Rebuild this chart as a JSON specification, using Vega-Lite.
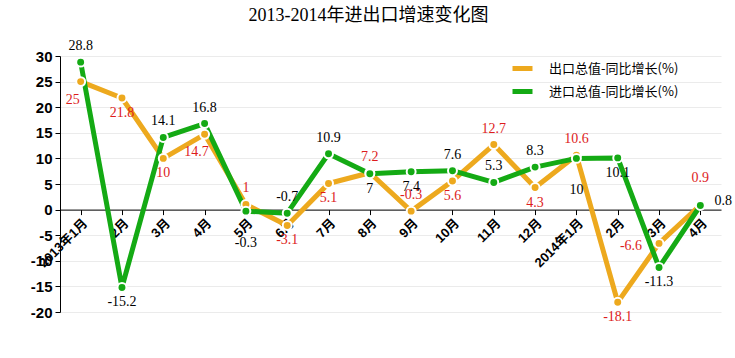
{
  "$schema": "https://vega.github.io/schema/vega-lite/v6.json",
  "autosize": "none",
  "width": 661,
  "height": 256,
  "padding": {"left": 60, "top": 56, "right": 14, "bottom": 46},
  "background": "white",
  "title": {
    "text": "2013-2014年进出口增速变化图",
    "font": "Liberation Serif, Noto Sans CJK SC",
    "fontSize": 18,
    "fontWeight": "normal",
    "color": "#000",
    "anchor": "middle",
    "dx": -22,
    "offset": 14
  },
  "config": {"view": {"stroke": null}},
  "data": {
    "values": [
      {"m": "2013-01", "s": "出口总值-同比增长(%)", "v": 25},
      {"m": "2013-02", "s": "出口总值-同比增长(%)", "v": 21.8},
      {"m": "2013-03", "s": "出口总值-同比增长(%)", "v": 10},
      {"m": "2013-04", "s": "出口总值-同比增长(%)", "v": 14.7},
      {"m": "2013-05", "s": "出口总值-同比增长(%)", "v": 1},
      {"m": "2013-06", "s": "出口总值-同比增长(%)", "v": -3.1},
      {"m": "2013-07", "s": "出口总值-同比增长(%)", "v": 5.1},
      {"m": "2013-08", "s": "出口总值-同比增长(%)", "v": 7.2},
      {"m": "2013-09", "s": "出口总值-同比增长(%)", "v": -0.3},
      {"m": "2013-10", "s": "出口总值-同比增长(%)", "v": 5.6},
      {"m": "2013-11", "s": "出口总值-同比增长(%)", "v": 12.7},
      {"m": "2013-12", "s": "出口总值-同比增长(%)", "v": 4.3},
      {"m": "2014-01", "s": "出口总值-同比增长(%)", "v": 10.6},
      {"m": "2014-02", "s": "出口总值-同比增长(%)", "v": -18.1},
      {"m": "2014-03", "s": "出口总值-同比增长(%)", "v": -6.6},
      {"m": "2014-04", "s": "出口总值-同比增长(%)", "v": 0.9},
      {"m": "2013-01", "s": "进口总值-同比增长(%)", "v": 28.8},
      {"m": "2013-02", "s": "进口总值-同比增长(%)", "v": -15.2},
      {"m": "2013-03", "s": "进口总值-同比增长(%)", "v": 14.1},
      {"m": "2013-04", "s": "进口总值-同比增长(%)", "v": 16.8},
      {"m": "2013-05", "s": "进口总值-同比增长(%)", "v": -0.3},
      {"m": "2013-06", "s": "进口总值-同比增长(%)", "v": -0.7},
      {"m": "2013-07", "s": "进口总值-同比增长(%)", "v": 10.9},
      {"m": "2013-08", "s": "进口总值-同比增长(%)", "v": 7},
      {"m": "2013-09", "s": "进口总值-同比增长(%)", "v": 7.4},
      {"m": "2013-10", "s": "进口总值-同比增长(%)", "v": 7.6},
      {"m": "2013-11", "s": "进口总值-同比增长(%)", "v": 5.3},
      {"m": "2013-12", "s": "进口总值-同比增长(%)", "v": 8.3},
      {"m": "2014-01", "s": "进口总值-同比增长(%)", "v": 10},
      {"m": "2014-02", "s": "进口总值-同比增长(%)", "v": 10.1},
      {"m": "2014-03", "s": "进口总值-同比增长(%)", "v": -11.3},
      {"m": "2014-04", "s": "进口总值-同比增长(%)", "v": 0.8}
    ]
  },
  "encoding": {
    "x": {
      "field": "m",
      "type": "ordinal",
      "sort": null,
      "scale": {"paddingInner": 0, "paddingOuter": 0},
      "axis": {
        "title": null,
        "offset": -102.4,
        "bandPosition": 0,
        "labelDx": 20.6,
        "domainColor": "#000",
        "domainWidth": 1,
        "tickColor": "#000",
        "tickSize": 5,
        "labelAngle": -45,
        "labelFont": "Liberation Sans, Noto Sans CJK SC",
        "labelFontSize": 13,
        "labelFontWeight": "bold",
        "labelColor": "#000",
        "labelExpr": "slice(datum.value,5)=='01' ? slice(datum.value,0,4)+'年1月' : toNumber(slice(datum.value,5))+'月'"
      }
    },
    "y": {
      "field": "v",
      "type": "quantitative",
      "scale": {"domain": [-20, 30], "nice": false, "zero": false},
      "axis": {
        "title": null,
        "values": [-20, -15, -10, -5, 0, 5, 10, 15, 20, 25, 30],
        "labelExpr": "'' + datum.value",
        "domainColor": "#000",
        "tickColor": "#000",
        "tickSize": 5,
        "gridColor": "#ebebeb",
        "labelFont": "Liberation Sans",
        "labelFontSize": 15,
        "labelFontWeight": "bold",
        "labelColor": "#000",
        "labelPadding": 3
      }
    }
  },
  "layer": [
    {
      "mark": {"type": "line", "strokeWidth": 5, "strokeJoin": "round"},
      "encoding": {
        "color": {
          "field": "s",
          "type": "nominal",
          "scale": {"domain": ["出口总值-同比增长(%)", "进口总值-同比增长(%)"], "range": ["#EDA91E", "#14AA14"]},
          "legend": {
            "title": null,
            "orient": "none",
            "legendX": 450,
            "legendY": 0,
            "symbolType": "stroke",
            "symbolSize": 400,
            "symbolStrokeWidth": 5,
            "labelOffset": 14,
            "labelFont": "Noto Sans CJK SC",
            "labelFontSize": 13,
            "labelColor": "#000",
            "rowPadding": 0
          }
        }
      }
    },
    {
      "mark": {"type": "point", "filled": true, "size": 80, "stroke": "white", "strokeWidth": 2, "opacity": 1},
      "encoding": {
        "fill": {
          "field": "s",
          "type": "nominal",
          "scale": {"domain": ["出口总值-同比增长(%)", "进口总值-同比增长(%)"], "range": ["#EDA91E", "#14AA14"]},
          "legend": null
        }
      }
    },
    {
      "transform": [{"filter": {"and": [{"field": "s", "equal": "出口总值-同比增长(%)"}, {"field": "m", "oneOf": ["2013-02", "2013-03", "2013-06", "2013-07", "2013-10", "2013-12", "2014-02"]}]}}],
      "mark": {"type": "text", "dy": 15, "font": "Liberation Serif", "fontSize": 14, "color": "#DD1C1C"},
      "encoding": {"text": {"field": "v", "type": "nominal"}}
    },
    {
      "transform": [{"filter": {"and": [{"field": "s", "equal": "出口总值-同比增长(%)"}, {"field": "m", "oneOf": ["2013-01", "2013-04"]}]}}],
      "mark": {"type": "text", "dx": -8, "dy": 18, "font": "Liberation Serif", "fontSize": 14, "color": "#DD1C1C"},
      "encoding": {"text": {"field": "v", "type": "nominal"}}
    },
    {
      "transform": [{"filter": {"and": [{"field": "s", "equal": "出口总值-同比增长(%)"}, {"field": "m", "oneOf": ["2013-05", "2013-08", "2013-09", "2013-11", "2014-01"]}]}}],
      "mark": {"type": "text", "dy": -16, "font": "Liberation Serif", "fontSize": 14, "color": "#DD1C1C"},
      "encoding": {"text": {"field": "v", "type": "nominal"}}
    },
    {
      "transform": [{"filter": {"and": [{"field": "s", "equal": "出口总值-同比增长(%)"}, {"field": "m", "oneOf": ["2014-04"]}]}}],
      "mark": {"type": "text", "dy": -27, "font": "Liberation Serif", "fontSize": 14, "color": "#DD1C1C"},
      "encoding": {"text": {"field": "v", "type": "nominal"}}
    },
    {
      "transform": [{"filter": {"and": [{"field": "s", "equal": "出口总值-同比增长(%)"}, {"field": "m", "oneOf": ["2014-03"]}]}}],
      "mark": {"type": "text", "dx": -28, "dy": 3, "font": "Liberation Serif", "fontSize": 14, "color": "#DD1C1C"},
      "encoding": {"text": {"field": "v", "type": "nominal"}}
    },
    {
      "transform": [{"filter": {"and": [{"field": "s", "equal": "进口总值-同比增长(%)"}, {"field": "m", "oneOf": ["2013-01", "2013-03", "2013-04", "2013-06", "2013-07", "2013-10", "2013-11", "2013-12"]}]}}],
      "mark": {"type": "text", "dy": -16, "font": "Liberation Serif", "fontSize": 14, "color": "#000"},
      "encoding": {"text": {"field": "v", "type": "nominal"}}
    },
    {
      "transform": [{"filter": {"and": [{"field": "s", "equal": "进口总值-同比增长(%)"}, {"field": "m", "oneOf": ["2013-02", "2013-08", "2013-09", "2014-02", "2014-03"]}]}}],
      "mark": {"type": "text", "dy": 15, "font": "Liberation Serif", "fontSize": 14, "color": "#000"},
      "encoding": {"text": {"field": "v", "type": "nominal"}}
    },
    {
      "transform": [{"filter": {"and": [{"field": "s", "equal": "进口总值-同比增长(%)"}, {"field": "m", "oneOf": ["2013-05", "2014-01"]}]}}],
      "mark": {"type": "text", "dy": 32, "font": "Liberation Serif", "fontSize": 14, "color": "#000"},
      "encoding": {"text": {"field": "v", "type": "nominal"}}
    },
    {
      "transform": [{"filter": {"and": [{"field": "s", "equal": "进口总值-同比增长(%)"}, {"field": "m", "oneOf": ["2014-04"]}]}}],
      "mark": {"type": "text", "dx": 23, "dy": -5, "font": "Liberation Serif", "fontSize": 14, "color": "#000"},
      "encoding": {"text": {"field": "v", "type": "nominal"}}
    }
  ]
}
